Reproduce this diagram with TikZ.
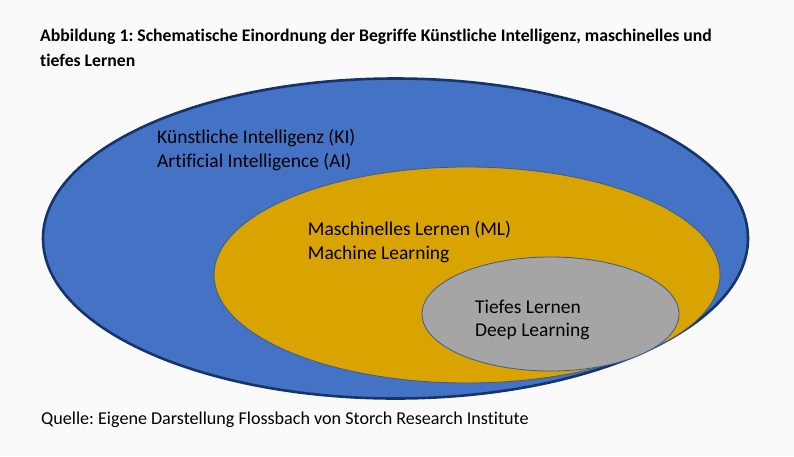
\documentclass[tikz,border=0pt]{standalone}
\usepackage{fontspec}
\setmainfont{Carlito}[Ligatures=NoCommon]
\usepackage{xcolor}
\usepackage{tikz}
\usetikzlibrary{positioning, shapes.geometric}
\frenchspacing

\definecolor{pagebg}{HTML}{FAFAFA}
\definecolor{kiblue}{HTML}{4472C4}
\definecolor{kiborder}{HTML}{15346B}
\definecolor{mlgold}{HTML}{DAA400}
\definecolor{dlgrey}{HTML}{A5A5A5}
\definecolor{thinedge}{HTML}{3A5A94}

\begin{document}
\begin{tikzpicture}[
    x=1pt, y=-1pt,
    set/.style={draw, ellipse, inner sep=0pt},
    setlabel/.style={anchor=base west, align=left, inner sep=0pt, font=\fontsize{19.5}{23.3}\selectfont},
    note/.style={anchor=base west, align=left, inner sep=0pt}
]
\useasboundingbox[fill=pagebg] (0,0) rectangle (794,456);

% Title and source
\node[note, font=\bfseries\fontsize{17.7}{25}\selectfont] (title) at (40,66.7)
  {Abbildung 1: Schematische Einordnung der Begriffe Künstliche Intelligenz, maschinelles und\\tiefes Lernen};
\node[note, font=\fontsize{18.1}{20}\selectfont] (source) at (41,424)
  {Quelle: Eigene Darstellung Flossbach von Storch Research Institute};

% Sets
\node[set, fill=kiblue, draw=kiborder, line width=2.6pt, minimum width=705pt, minimum height=320pt] (ki) at (395.5,238.5) {};
\node[set, fill=mlgold, draw=thinedge, line width=0.8pt, minimum width=506pt, minimum height=216pt] (ml) at (467,275) {};
\node[set, fill=dlgrey, draw=thinedge, line width=0.8pt, minimum width=257pt, minimum height=114pt] (dl) at (550.5,314) {};

% Labels
\node[setlabel] (kilabel) at (157,167) {Künstliche Intelligenz (KI)\\Artificial Intelligence (AI)};
\node[setlabel] (mllabel) at (307.7,259) {Maschinelles Lernen (ML)\\Machine Learning};
\node[setlabel] (dllabel) at (475,336.5) {Tiefes Lernen\\Deep Learning};
\end{tikzpicture}
\end{document}
